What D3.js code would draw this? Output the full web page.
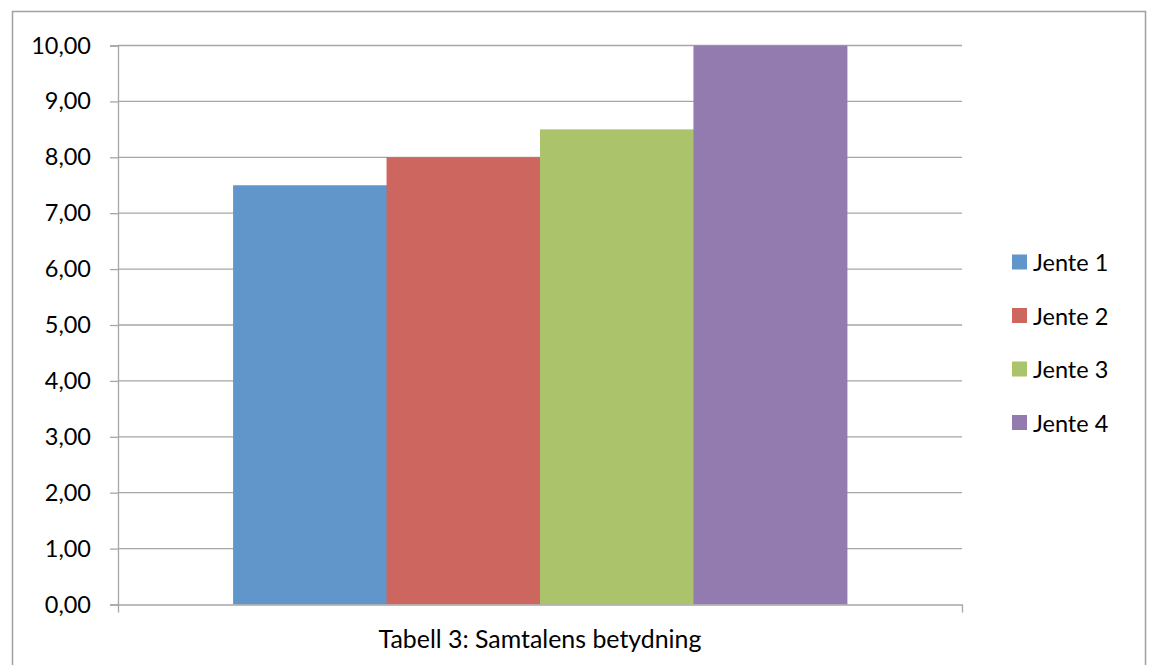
<!DOCTYPE html>
<html>
<head>
<meta charset="utf-8">
<script src="https://cdn.jsdelivr.net/npm/d3@7"></script>
<style>
  html, body { margin: 0; padding: 0; background: #fff; }
  svg { display: block; font-family: Lato, "Open Sans", sans-serif; }
</style>
</head>
<body>
<svg id="chart" width="1151" height="665"></svg>
<script>
// Series: one value per girl, a single category group
const seriesNames = ["Jente 1", "Jente 2", "Jente 3", "Jente 4"];
const seriesValues = [7.5, 8.0, 8.5, 10.0];
const seriesColors = ["#6096ca", "#cd665f", "#abc46b", "#937bb0"];
const yTicks = [0, 1, 2, 3, 4, 5, 6, 7, 8, 9, 10];
const categoryTitle = "Tabell 3: Samtalens betydning";

const svg = d3.select("#chart");
const plot = { left: 118, right: 962, top: 45.5, bottom: 604.5 };
const fontSize = "23.5px";

// Outer chart frame
svg.append("rect")
  .attr("x", 12.5).attr("y", 11.5)
  .attr("width", 1133).attr("height", 660)
  .attr("fill", "#fff").attr("stroke", "#a0a0a0").attr("stroke-width", 1.5);

const y = d3.scaleLinear().domain([0, 10]).range([plot.bottom, plot.top]);

// Single category band; bars fill it with a 150% gap width
const x0 = d3.scaleBand().domain(["g"]).range([plot.left, plot.right]).paddingInner(0).paddingOuter(0);
const groupW = x0.bandwidth() * 4 / 5.5;
const groupStart = x0("g") + (x0.bandwidth() - groupW) / 2;
const x1 = d3.scaleBand().domain(seriesNames).range([groupStart, groupStart + groupW]).padding(0);

// Horizontal gridlines
svg.append("g")
  .selectAll("line")
  .data(yTicks.filter(d => d > 0))
  .join("line")
  .attr("x1", plot.left).attr("x2", plot.right)
  .attr("y1", d => y(d)).attr("y2", d => y(d))
  .attr("stroke", "#a6a6a6").attr("stroke-width", 1.3);

// Bars
svg.append("g")
  .selectAll("rect")
  .data(seriesValues)
  .join("rect")
  .attr("x", (d, i) => x1(seriesNames[i]))
  .attr("width", x1.bandwidth() + 0.5)
  .attr("y", d => y(d))
  .attr("height", d => y(0) - y(d))
  .attr("fill", (d, i) => seriesColors[i]);

// Value axis
const yAxis = d3.axisLeft(y)
  .tickValues(yTicks)
  .tickSize(8)
  .tickPadding(19)
  .tickFormat(d => d3.format(".2f")(d).replace(".", ","));

const gy = svg.append("g")
  .attr("transform", `translate(${plot.left},0)`)
  .call(yAxis);
gy.select(".domain").attr("stroke", "#a6a6a6").attr("stroke-width", 1.3);
gy.selectAll(".tick line").attr("stroke", "#a6a6a6").attr("stroke-width", 1.3);
gy.selectAll(".tick text")
  .attr("fill", "#000")
  .style("font-size", fontSize)
  .style("font-family", "Lato, sans-serif");

// Category axis with end ticks
const xAxisScale = d3.scaleLinear().domain([0, 1]).range([plot.left, plot.right]);
const gx = svg.append("g")
  .attr("transform", `translate(0,${plot.bottom})`)
  .call(d3.axisBottom(xAxisScale).tickValues([0, 1]).tickSize(8).tickSizeOuter(0).tickFormat(""));
gx.select(".domain").attr("stroke", "#a6a6a6").attr("stroke-width", 1.3);
gx.selectAll(".tick line").attr("stroke", "#a6a6a6").attr("stroke-width", 1.3);

// Category title
svg.append("text")
  .attr("x", 540)
  .attr("y", 648)
  .attr("text-anchor", "middle")
  .style("font-size", "24.9px")
  .attr("fill", "#000")
  .text(categoryTitle);

// Legend
const legend = svg.append("g")
  .selectAll("g")
  .data(seriesNames)
  .join("g")
  .attr("transform", (d, i) => `translate(1012,${262 + i * 53.5})`);
legend.append("rect")
  .attr("x", 0).attr("y", -7.5)
  .attr("width", 15).attr("height", 15)
  .attr("fill", (d, i) => seriesColors[i]);
legend.append("text")
  .attr("x", 21).attr("y", 1)
  .attr("dy", "0.36em")
  .style("font-size", fontSize)
  .attr("fill", "#000")
  .text(d => d);
</script>
</body>
</html>
